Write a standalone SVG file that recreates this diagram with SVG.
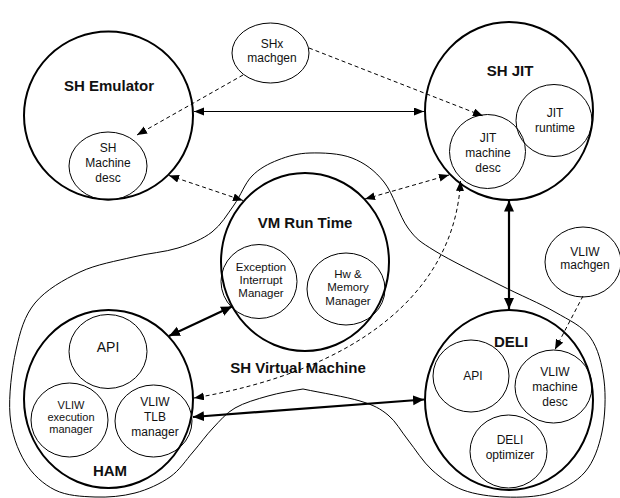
<svg xmlns="http://www.w3.org/2000/svg" width="620" height="498" viewBox="0 0 620 498">
<style>
.big{fill:none;stroke:#000;stroke-width:2}
.sm{fill:none;stroke:#000;stroke-width:1}
.t{font-family:"Liberation Sans",Arial,sans-serif;text-anchor:middle;fill:#111}
.b{font-size:15px;font-weight:bold}
.n{font-size:12px}
.s{font-size:11.5px}
.solid{fill:none;stroke:#000;stroke-width:1.2}
.thick{fill:none;stroke:#000;stroke-width:2.2}
.dash{fill:none;stroke:#000;stroke-width:1;stroke-dasharray:4 3}
</style>
<defs>
<marker id="ae" markerUnits="userSpaceOnUse" markerWidth="11" markerHeight="9" refX="10" refY="4" orient="auto"><path d="M0,0 L10,4 L0,8 z" fill="#000"/></marker>
<marker id="as" markerUnits="userSpaceOnUse" markerWidth="11" markerHeight="9" refX="10" refY="4" orient="auto-start-reverse"><path d="M0,0 L10,4 L0,8 z" fill="#000"/></marker>
<marker id="be" markerUnits="userSpaceOnUse" markerWidth="12" markerHeight="11" refX="11" refY="5" orient="auto"><path d="M0,0 L11,5 L0,10 z" fill="#000"/></marker>
<marker id="bs" markerUnits="userSpaceOnUse" markerWidth="12" markerHeight="11" refX="11" refY="5" orient="auto-start-reverse"><path d="M0,0 L11,5 L0,10 z" fill="#000"/></marker>
</defs>
<rect width="620" height="498" fill="#fff"/>

<g id="sh-virtual-machine">
<path class="sm" d="M310,153 C322.3,152.7 339.7,153.2 352,158 S374.7,170.3 384,182 S399.5,216.5 408,228 S419.7,241.5 435,251 S480,274.8 500,285 S540,303.3 555,312 S581.8,325.7 590,337 S602,364.2 604,380 S605.2,416.7 602,432 S593.7,461.8 585,472 S563.3,488.8 550,493 S519.5,497.5 505,497 S475.2,494.5 463,490 S441.2,478.3 432,470 S415.3,449.2 408,440 S396,421.5 388,415 S374.2,405.3 360,401 C345.8,396.7 322,393 303,389 C291,391 279.3,392.8 268,396 S244.2,402.7 235,408 S220,420.7 213,428 S200.2,443.8 193,452 S179.7,470.2 170,477 S147.5,489.7 135,493 S108.3,497.5 95,497 S66.7,495.8 55,490 S32.5,474.5 25,462 S11.5,433.7 10,415 S11.8,368.7 16,350 S24.3,316 35,303 S63.7,279.7 80,272 S116.7,261 133,257 S164.8,252.2 178,248 S202.7,239.2 212,232 S227.3,214.3 234,205 S244.7,183.5 252,176 S268.3,163.8 278,160 S297.7,153.3 310,153 Z"/>
<text class="t b" x="298" y="373">SH Virtual Machine</text>
</g>

<g id="sh-emulator">
<ellipse class="big" cx="108.5" cy="115.5" rx="84.5" ry="84"/>
<text class="t b" x="109" y="91">SH Emulator</text>
</g>
<g id="sh-machine-desc">
<ellipse class="sm" cx="108" cy="166" rx="39" ry="34"/>
<text class="t n" x="108" y="152">SH</text>
<text class="t n" x="108" y="167">Machine</text>
<text class="t n" x="108" y="182">desc</text>
</g>

<g id="shx-machgen">
<ellipse class="sm" cx="270.5" cy="53" rx="38.5" ry="30"/>
<text class="t n" x="272" y="48">SHx</text>
<text class="t n" x="272" y="62">machgen</text>
</g>

<g id="sh-jit">
<ellipse class="big" cx="509" cy="111" rx="84" ry="89"/>
<text class="t b" x="510" y="76">SH JIT</text>
</g>
<g id="jit-runtime">
<ellipse class="sm" cx="554" cy="120.5" rx="38" ry="36"/>
<text class="t n" x="555" y="117">JIT</text>
<text class="t n" x="555" y="132">runtime</text>
</g>
<g id="jit-machine-desc">
<ellipse class="sm" cx="487.5" cy="151.5" rx="38" ry="37"/>
<text class="t n" x="488" y="142">JIT</text>
<text class="t n" x="488" y="157">machine</text>
<text class="t n" x="488" y="172">desc</text>
</g>

<g id="vm-run-time">
<ellipse class="big" cx="305" cy="262" rx="84" ry="89"/>
<text class="t b" x="305" y="228">VM Run Time</text>
</g>
<g id="exception-interrupt-manager">
<ellipse class="sm" cx="259" cy="281.5" rx="38" ry="37"/>
<text class="t s" x="261" y="271">Exception</text>
<text class="t s" x="261" y="284">Interrupt</text>
<text class="t s" x="261" y="297">Manager</text>
</g>
<g id="hw-memory-manager">
<ellipse class="sm" cx="346" cy="289" rx="39" ry="36"/>
<text class="t s" x="348" y="278">Hw &amp;</text>
<text class="t s" x="348" y="291">Memory</text>
<text class="t s" x="348" y="305">Manager</text>
</g>

<g id="ham">
<ellipse class="big" cx="108.5" cy="399" rx="84.5" ry="89"/>
<text class="t b" x="110" y="476">HAM</text>
</g>
<g id="ham-api">
<ellipse class="sm" cx="108" cy="351.5" rx="39" ry="37"/>
<text class="t" style="font-size:14px" x="108" y="352">API</text>
</g>
<g id="vliw-execution-manager">
<ellipse class="sm" cx="69.5" cy="420" rx="38.5" ry="37"/>
<text class="t" style="font-size:11px" x="71" y="409">VLIW</text>
<text class="t" style="font-size:11px" x="71" y="421">execution</text>
<text class="t" style="font-size:11px" x="71" y="433">manager</text>
</g>
<g id="vliw-tlb-manager">
<ellipse class="sm" cx="153.5" cy="421" rx="38.5" ry="36"/>
<text class="t n" x="155" y="406">VLIW</text>
<text class="t n" x="155" y="421">TLB</text>
<text class="t n" x="155" y="436">manager</text>
</g>

<g id="deli">
<ellipse class="big" cx="509" cy="400" rx="84" ry="90"/>
<text class="t b" x="511" y="347">DELI</text>
</g>
<g id="deli-api">
<ellipse class="sm" cx="471" cy="376" rx="38" ry="36"/>
<text class="t n" x="473" y="380">API</text>
</g>
<g id="vliw-machine-desc">
<ellipse class="sm" cx="553.5" cy="386.5" rx="38.5" ry="36.5"/>
<text class="t n" x="555" y="376">VLIW</text>
<text class="t n" x="555" y="391">machine</text>
<text class="t n" x="555" y="406">desc</text>
</g>
<g id="deli-optimizer">
<ellipse class="sm" cx="508.5" cy="451.5" rx="38.5" ry="36.5"/>
<text class="t n" x="510" y="444">DELI</text>
<text class="t n" x="510" y="459">optimizer</text>
</g>

<g id="vliw-machgen">
<ellipse class="sm" cx="583" cy="262" rx="38" ry="35"/>
<text class="t n" x="585" y="256">VLIW</text>
<text class="t n" x="585" y="269">machgen</text>
</g>

<g id="connectors">
<line class="solid" x1="194" y1="111.5" x2="424" y2="111.5" marker-start="url(#as)" marker-end="url(#ae)"/>
<line class="dash" x1="243" y1="75" x2="137" y2="135" marker-end="url(#ae)"/>
<line class="dash" x1="309" y1="48" x2="483" y2="116" marker-end="url(#ae)"/>
<line class="dash" x1="169" y1="175.5" x2="243" y2="200.5" marker-start="url(#as)" marker-end="url(#ae)"/>
<line class="dash" x1="365" y1="199" x2="449" y2="175" marker-start="url(#as)" marker-end="url(#ae)"/>
<path class="dash" d="M460.5,181 C455,290 360,370 194,398" marker-start="url(#as)" marker-end="url(#ae)"/>
<line class="thick" x1="169" y1="336" x2="232" y2="306.5" marker-start="url(#bs)" marker-end="url(#be)"/>
<line class="thick" x1="193" y1="417" x2="424" y2="399.5" marker-start="url(#bs)" marker-end="url(#be)"/>
<line class="thick" x1="509" y1="200.5" x2="509" y2="309" marker-start="url(#bs)" marker-end="url(#be)"/>
<line class="dash" x1="583" y1="296" x2="555" y2="349.5" marker-end="url(#ae)"/>
</g>
</svg>
